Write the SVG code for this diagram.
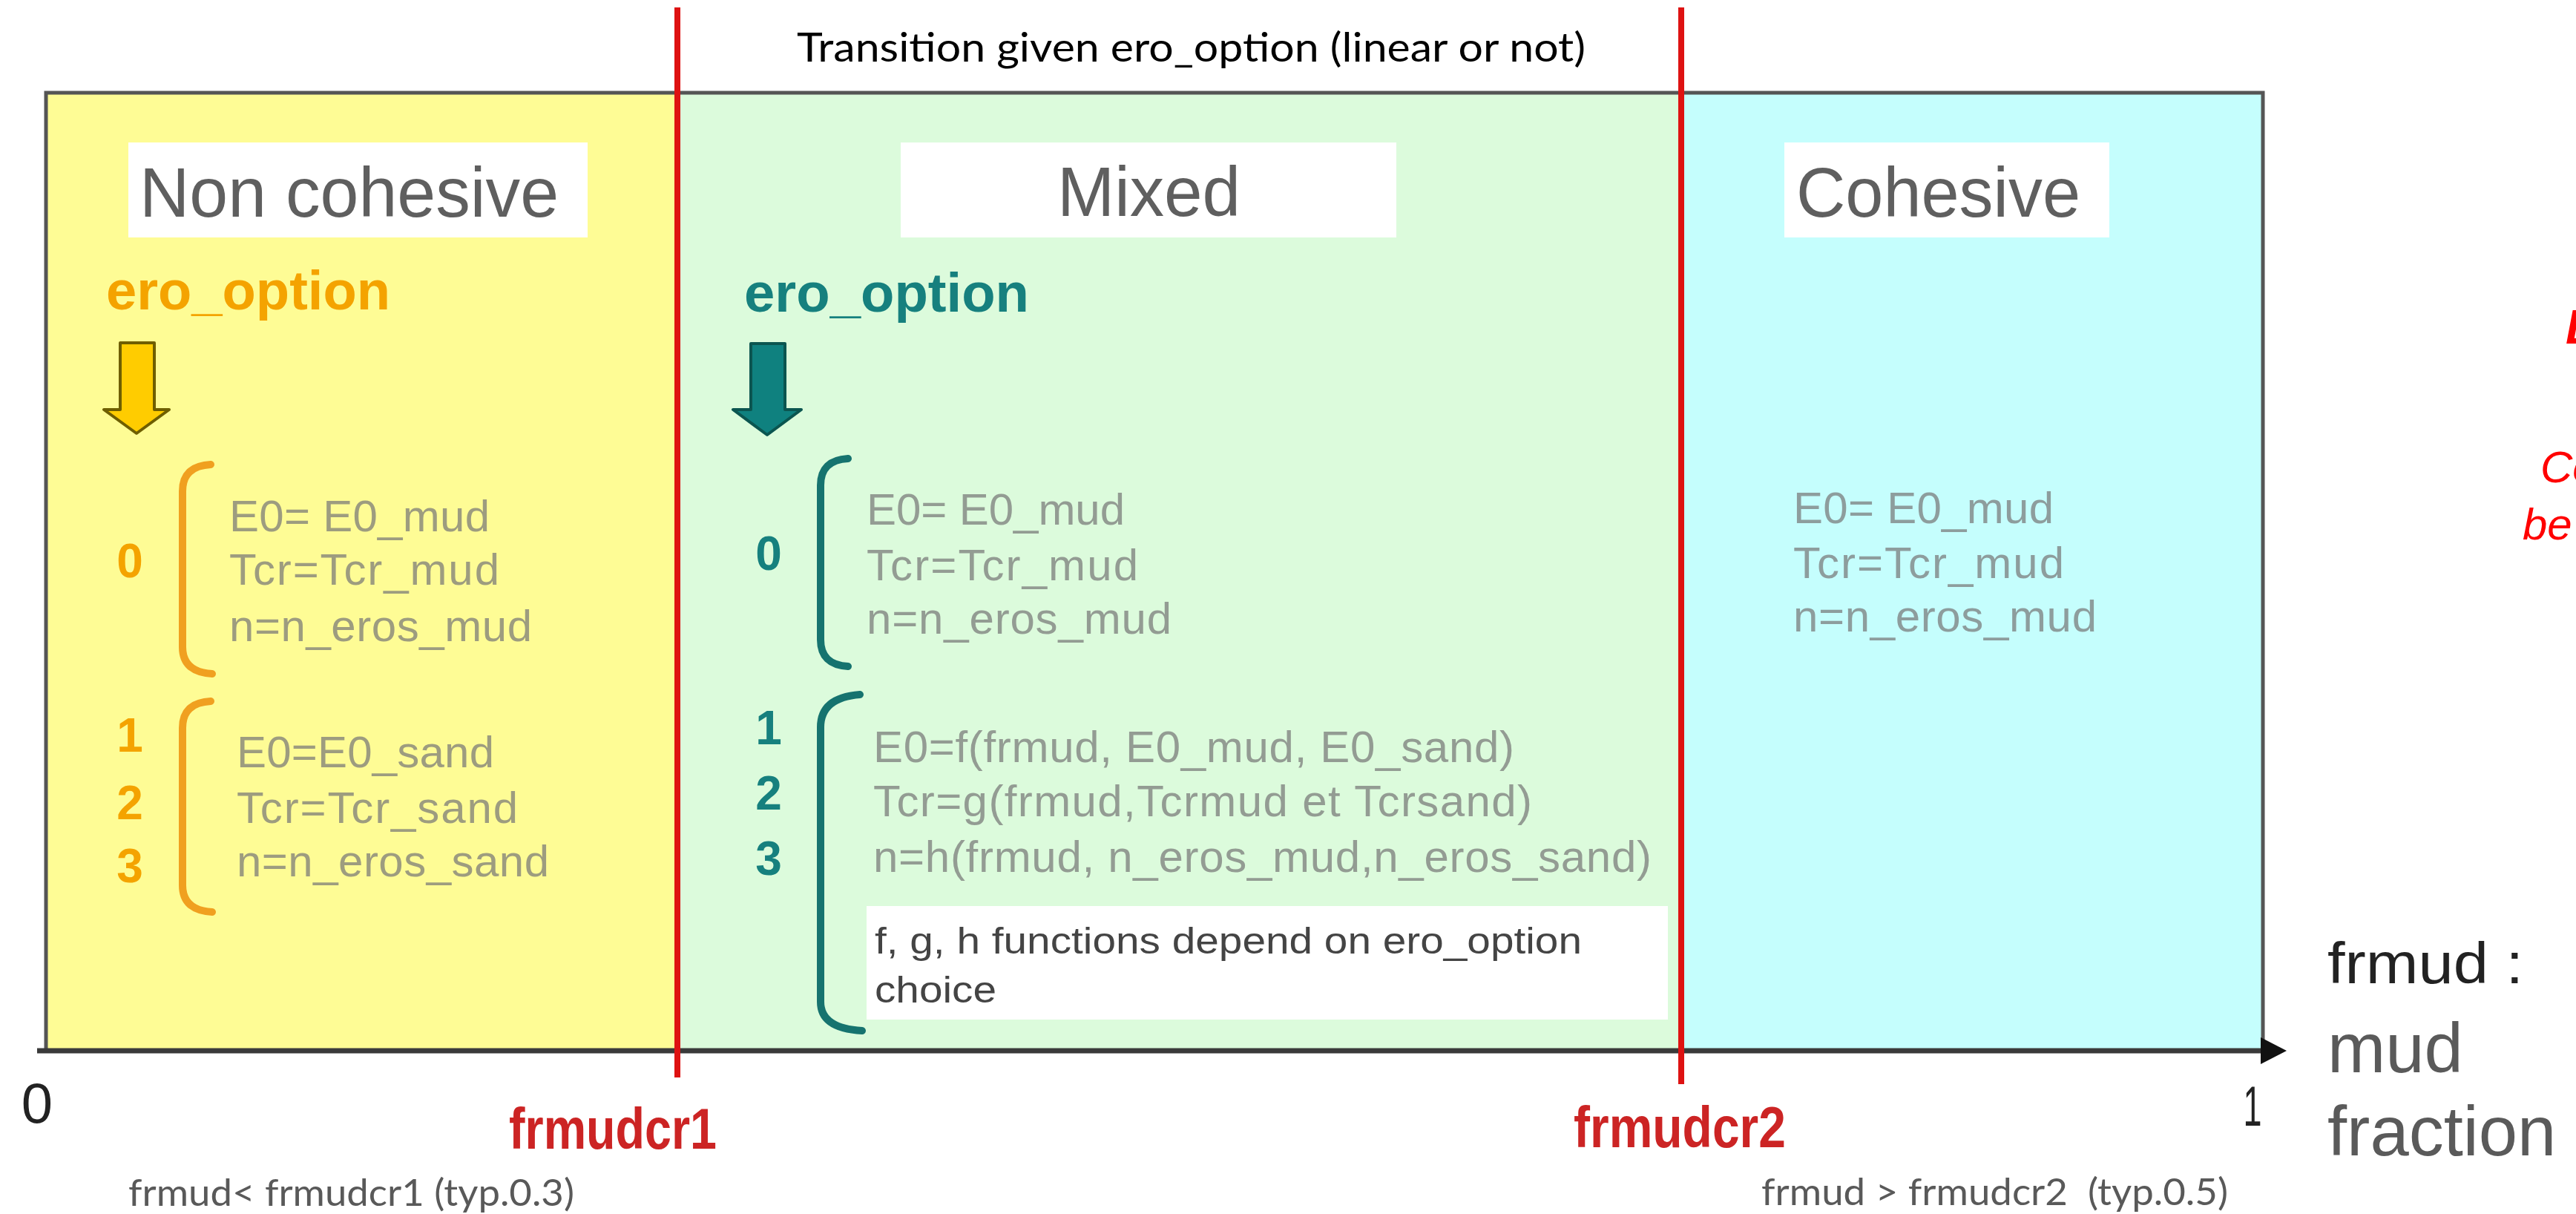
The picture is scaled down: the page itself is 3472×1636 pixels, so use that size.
<svg xmlns="http://www.w3.org/2000/svg" width="3472" height="1636" viewBox="0 0 3472 1636">
<style>
  .sans{font-family:"Liberation Sans",Arial,Helvetica,sans-serif}
  .cal{font-family:Lato,"Open Sans","Liberation Sans",sans-serif}
  .title{font-family:"Liberation Sans",Arial,sans-serif;font-size:94px;fill:#5f5f5f}
  .gray{font-family:"Liberation Sans",Arial,sans-serif;font-size:60px;fill:#777777;fill-opacity:0.72}
  .opt{font-family:"Liberation Sans",Arial,sans-serif;font-size:74px;font-weight:bold}
  .dig{font-family:"Liberation Sans",Arial,sans-serif;font-size:64px;font-weight:bold;text-anchor:middle}
  .orange{fill:#F4A300}
  .teal{fill:#16807E}
  .brO{fill:none;stroke:#F0A020;stroke-width:10;stroke-linecap:round}
  .brT{fill:none;stroke:#16736F;stroke-width:10;stroke-linecap:round}
  .red{stroke:#DE1212;stroke-width:8}
  .redlbl{font-family:"Liberation Sans",Arial,sans-serif;font-size:78px;font-weight:bold;fill:#CC2424}
  .clip{font-family:"Liberation Sans",Arial,sans-serif;font-style:italic;fill:#FF0000}
  .bottom{font-family:Lato,"Open Sans","Liberation Sans",sans-serif;font-size:50px;fill:#595959}
</style>
<rect x="0" y="0" width="3472" height="1636" fill="#ffffff"/>

<g id="region-noncohesive">
  <rect x="62" y="125" width="851" height="1291" fill="#FEFC95"/>
</g>
<g id="region-mixed">
  <rect x="913" y="125" width="1353" height="1291" fill="#DCFBDC"/>
</g>
<g id="region-cohesive">
  <rect x="2266" y="125" width="784" height="1291" fill="#C5FEFD"/>
</g>
<g id="frame">
  <path d="M62 1416 L62 125 L3050 125 L3050 1416" fill="none" stroke="#555555" stroke-width="5"/>
</g>

<g id="title-transition">
  <text class="cal" x="1074" y="83" font-size="54" fill="#000000" textLength="1063" lengthAdjust="spacingAndGlyphs">Transition given ero_option (linear or not)</text>
</g>

<g id="label-noncohesive">
  <rect x="173" y="192" width="619" height="128" fill="#ffffff"/>
  <text class="title" x="188" y="292" textLength="565" lengthAdjust="spacingAndGlyphs">Non cohesive</text>
</g>
<g id="label-mixed">
  <rect x="1214" y="192" width="668" height="128" fill="#ffffff"/>
  <text class="title" x="1425" y="291" textLength="247" lengthAdjust="spacingAndGlyphs">Mixed</text>
</g>
<g id="label-cohesive">
  <rect x="2405" y="192" width="438" height="128" fill="#ffffff"/>
  <text class="title" x="2421" y="292" textLength="383" lengthAdjust="spacingAndGlyphs">Cohesive</text>
</g>

<g id="noncohesive-options">
  <text class="opt orange" x="143" y="417" textLength="383" lengthAdjust="spacingAndGlyphs">ero_option</text>
  <polygon points="162,462 208,462 208,552 228,552 184,584 140,552 162,552" fill="#FFCC00" stroke="#6E5E00" stroke-width="4" stroke-linejoin="round"/>
  <path class="brO" d="M284 626 Q246 628 246 662 L246 872 Q246 906 286 908"/>
  <path class="brO" d="M284 945 Q246 947 246 981 L246 1193 Q246 1227 286 1229"/>
  <text class="dig orange" x="175" y="778">0</text>
  <text class="dig orange" x="175" y="1013">1</text>
  <text class="dig orange" x="175" y="1104">2</text>
  <text class="dig orange" x="175" y="1189">3</text>
  <text class="gray" x="309" y="716" textLength="351" lengthAdjust="spacing">E0= E0_mud</text>
  <text class="gray" x="309" y="788" textLength="364" lengthAdjust="spacing">Tcr=Tcr_mud</text>
  <text class="gray" x="309" y="864" textLength="408" lengthAdjust="spacing">n=n_eros_mud</text>
  <text class="gray" x="319" y="1034" textLength="347" lengthAdjust="spacing">E0=E0_sand</text>
  <text class="gray" x="319" y="1109" textLength="379" lengthAdjust="spacing">Tcr=Tcr_sand</text>
  <text class="gray" x="319" y="1181" textLength="421" lengthAdjust="spacing">n=n_eros_sand</text>
</g>

<g id="mixed-options">
  <text class="opt teal" x="1003" y="420" textLength="384" lengthAdjust="spacingAndGlyphs">ero_option</text>
  <polygon points="1012,463 1058,463 1058,552 1080,552 1034,586 988,552 1012,552" fill="#0F817F" stroke="#0B5550" stroke-width="4" stroke-linejoin="round"/>
  <path class="brT" d="M1143 618 Q1106 620 1106 654 L1106 862 Q1106 896 1143 898"/>
  <path class="brT" d="M1159 936 Q1106 940 1106 980 L1106 1350 Q1106 1386 1162 1389"/>
  <text class="dig teal" x="1036" y="768">0</text>
  <text class="dig teal" x="1036" y="1003">1</text>
  <text class="dig teal" x="1036" y="1091">2</text>
  <text class="dig teal" x="1036" y="1179">3</text>
  <text class="gray" x="1168" y="707" textLength="348" lengthAdjust="spacing">E0= E0_mud</text>
  <text class="gray" x="1168" y="782" textLength="366" lengthAdjust="spacing">Tcr=Tcr_mud</text>
  <text class="gray" x="1168" y="854" textLength="411" lengthAdjust="spacing">n=n_eros_mud</text>
  <text class="gray" x="1177" y="1027" textLength="864" lengthAdjust="spacing">E0=f(frmud, E0_mud, E0_sand)</text>
  <text class="gray" x="1177" y="1100" textLength="888" lengthAdjust="spacing">Tcr=g(frmud,Tcrmud et Tcrsand)</text>
  <text class="gray" x="1177" y="1175" textLength="1049" lengthAdjust="spacing">n=h(frmud, n_eros_mud,n_eros_sand)</text>
</g>

<g id="note-fgh">
  <rect x="1168" y="1221" width="1080" height="153" fill="#ffffff"/>
  <text class="sans" x="1179" y="1285" font-size="50" fill="#444444" textLength="953" lengthAdjust="spacingAndGlyphs">f, g, h functions depend on ero_option</text>
  <text class="sans" x="1179" y="1351" font-size="50" fill="#444444" textLength="164" lengthAdjust="spacingAndGlyphs">choice</text>
</g>

<g id="cohesive-options">
  <text class="gray" x="2417" y="705" textLength="351" lengthAdjust="spacing">E0= E0_mud</text>
  <text class="gray" x="2417" y="779" textLength="365" lengthAdjust="spacing">Tcr=Tcr_mud</text>
  <text class="gray" x="2417" y="851" textLength="409" lengthAdjust="spacing">n=n_eros_mud</text>
</g>

<g id="connectors">
  <line x1="50" y1="1416" x2="3050" y2="1416" stroke="#3a3a3a" stroke-width="7"/>
  <polygon points="3047,1398 3082,1416 3047,1434" fill="#111111"/>
  <line class="red" x1="913" y1="10" x2="913" y2="1452"/>
  <line class="red" x1="2266" y1="10" x2="2266" y2="1461"/>
</g>

<g id="axis-labels">
  <text class="sans" x="50" y="1513" font-size="76" fill="#222222" text-anchor="middle">0</text>
  <text class="sans" x="3036" y="1517" font-size="76" fill="#222222" text-anchor="middle" textLength="25" lengthAdjust="spacingAndGlyphs">1</text>
  <text class="redlbl" x="686" y="1548" textLength="280" lengthAdjust="spacingAndGlyphs">frmudcr1</text>
  <text class="redlbl" x="2121" y="1546" textLength="286" lengthAdjust="spacingAndGlyphs">frmudcr2</text>
  <text class="bottom" x="173" y="1625" textLength="601" lengthAdjust="spacingAndGlyphs">frmud&lt; frmudcr1 (typ.0.3)</text>
  <text class="bottom" x="2374" y="1624" xml:space="preserve" style="white-space:pre" textLength="629" lengthAdjust="spacingAndGlyphs">frmud &gt; frmudcr2  (typ.0.5)</text>
</g>

<g id="axis-title">
  <text class="sans" x="3137" y="1325" font-size="78" fill="#222222" textLength="264" lengthAdjust="spacingAndGlyphs">frmud :</text>
  <text class="sans" x="3137" y="1445" font-size="94" fill="#5a5a5a">mud</text>
  <text class="sans" x="3137" y="1557" font-size="94" fill="#5a5a5a">fraction</text>
</g>

<g id="clipped-notes">
  <text class="clip" x="3458" y="463" font-size="64" font-weight="bold">L</text>
  <text class="clip" x="3424" y="650" font-size="60">Co</text>
  <text class="clip" x="3400" y="727" font-size="60">be</text>
</g>
</svg>
